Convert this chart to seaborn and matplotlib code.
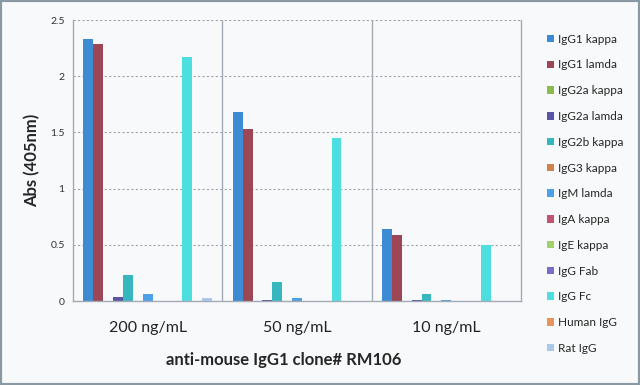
import pandas as pd
import numpy as np
import matplotlib
matplotlib.use('Agg')
import matplotlib.pyplot as plt
from matplotlib.patches import Rectangle
import seaborn as sns

# data
concentrations = ['200 ng/mL', '50 ng/mL', '10 ng/mL']
isotypes = ['IgG1 kappa', 'IgG1 lamda', 'IgG2a kappa', 'IgG2a lamda', 'IgG2b kappa',
            'IgG3 kappa', 'IgM lamda', 'IgA kappa', 'IgE kappa', 'IgG Fab',
            'IgG Fc', 'Human IgG', 'Rat IgG']
abs_200 = [2.33, 2.29, 0.005, 0.035, 0.23, 0.002, 0.06, 0.002, 0.002, 0.002, 2.17, 0.002, 0.025]
abs_50 = [1.68, 1.53, 0.004, 0.01, 0.17, 0.002, 0.025, 0.002, 0.002, 0.002, 1.45, 0.002, 0.005]
abs_10 = [0.64, 0.59, 0.003, 0.008, 0.065, 0.001, 0.008, 0.001, 0.001, 0.001, 0.50, 0.001, 0.002]
colors = ['#3d8bd3', '#9c4656', '#8cbc4c', '#5c55a6', '#36b7bf', '#d0824a', '#4ea0e6',
          '#c25470', '#a4d06a', '#7a6cc8', '#4ddfe0', '#e8945c', '#a9c9ea']

rows = []
for conc, vals in zip(concentrations, [abs_200, abs_50, abs_10]):
    for iso, v in zip(isotypes, vals):
        rows.append({'conc': conc, 'isotype': iso, 'abs': v})
df = pd.DataFrame(rows)

sns.set_style('white')
plt.rcParams['font.family'] = ['Lato', 'DejaVu Sans']

fig = plt.figure(figsize=(6.4, 3.85), dpi=100)
fig.patch.set_facecolor('#f8f9fa')
ax = fig.add_axes([0.114, 0.218, 0.7, 0.73])
ax.set_facecolor('#f8f9fa')

sns.barplot(data=df, x='conc', y='abs', hue='isotype', hue_order=isotypes,
            order=concentrations, palette=colors, width=0.86, saturation=1,
            edgecolor='none', ax=ax, legend=True)

ax.set_ylim(0, 2.5)
ax.set_xlim(-0.5, 2.5)
ax.set_yticks(np.arange(0, 2.51, 0.5))
ax.set_yticklabels(['0', '0.5', '1', '1.5', '2', '2.5'], fontsize=7.5, color='#333333')
ax.tick_params(axis='x', labelsize=11.5, length=0, pad=14, colors='#222222')
ax.tick_params(axis='y', length=0, pad=6)
ax.yaxis.grid(True, linestyle=(0, (2, 2)), color='#a0a4a8', linewidth=0.8)
ax.set_axisbelow(True)
for x in [0.5, 1.5]:
    ax.axvline(x, color='#a3acb4', linewidth=1)
for s in ['left', 'bottom', 'right']:
    ax.spines[s].set_color('#a3acb4')
    ax.spines[s].set_linewidth(1)
ax.spines['top'].set_visible(False)

ax.set_xlabel('anti-mouse IgG1 clone# RM106', fontsize=12, fontweight='bold')
ax.xaxis.set_label_coords(0.471, -0.18)
ax.set_ylabel('Abs (405nm)', fontsize=12, fontweight='bold', labelpad=7)

handles, labels = ax.get_legend_handles_labels()
ax.get_legend().remove()
fig.legend(handles, labels, loc='upper left', bbox_to_anchor=(0.838, 0.94),
           frameon=False, fontsize=8.5, labelspacing=1.25, handlelength=0.6,
           handleheight=0.6, handletextpad=0.3)

fig.patches.append(Rectangle((0, 0), 1, 1, transform=fig.transFigure, fill=False,
                             edgecolor='#8a98a2', linewidth=3))

fig.savefig('out.png', dpi=100, facecolor=fig.get_facecolor())
